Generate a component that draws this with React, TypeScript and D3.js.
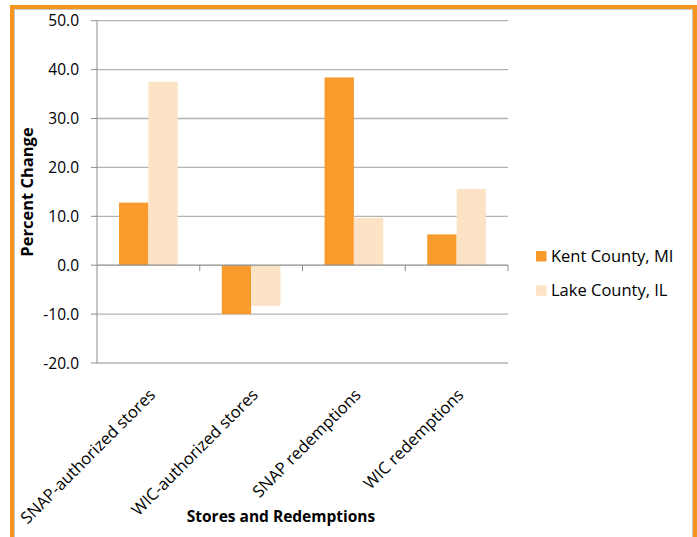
import React from "react";
import * as d3 from "d3";

const categories = ["SNAP-authorized stores", "WIC-authorized stores", "SNAP redemptions", "WIC redemptions"];
const seriesNames = ["Kent County, MI", "Lake County, IL"];
const kentValues = [12.8, -10.0, 38.4, 6.3];
const lakeValues = [37.5, -8.3, 9.7, 15.6];
const yTicks = [-20, -10, 0, 10, 20, 30, 40, 50];
const colors = ["#F89A2C", "#FDE3C6"];

const W = 697;
const H = 537;
const FONT = "'Open Sans', 'Liberation Sans', sans-serif";

export default function App() {
  const left = 97, right = 508, top = 20.7, bottom = 363;
  const x = d3.scaleBand<string>().domain(categories).range([left, right]).paddingInner(0).paddingOuter(0);
  const y = d3.scaleLinear().domain([-20, 50]).range([bottom, top]);
  const band = x.bandwidth();
  const bw = band / 3.5;
  const off = (band - 2 * bw) / 2;
  const series = [kentValues, lakeValues];
  const y0 = y(0);

  return (
    <svg width={W} height={H} style={{ position: "absolute", left: 0, top: 0 }} fontFamily={FONT}>
      <rect x={0} y={0} width={W} height={H} fill="#fff" />
      {/* frame */}
      <path d={`M12,${H + 5} L12,7 L695,7 L695,${H + 5}`} fill="none" stroke="#F7941E" strokeWidth={4} />
      <path d={`M14.5,${H + 5} L14.5,9.5 L692.5,9.5 L692.5,${H + 5}`} fill="none" stroke="#C8C8C8" strokeWidth={1} />

      {/* gridlines */}
      {yTicks.map((t) => (
        <g key={t}>
          {t !== 0 && (
            <line x1={left} x2={right} y1={y(t)} y2={y(t)} stroke="#B3B3B3" strokeWidth={1.3} />
          )}
          <line x1={left - 6} x2={left} y1={y(t)} y2={y(t)} stroke="#8C8C8C" strokeWidth={1} />
          <text x={79} y={y(t)} dy="0.36em" textAnchor="end" fontSize={15.5} fill="#000">
            {t.toFixed(1)}
          </text>
        </g>
      ))}

      {/* bars */}
      {categories.map((c, i) =>
        series.map((vals, s) => {
          const v = vals[i];
          const bx = (x(c) as number) + off + s * bw;
          return (
            <rect
              key={c + s}
              x={bx}
              y={Math.min(y(v), y0)}
              width={bw}
              height={Math.abs(y(v) - y0)}
              fill={colors[s]}
            />
          );
        })
      )}

      {/* y axis line */}
      <line x1={left} x2={left} y1={top} y2={bottom} stroke="#8C8C8C" strokeWidth={1} />
      {/* category axis at zero */}
      <line x1={left} x2={right} y1={y0} y2={y0} stroke="#8C8C8C" strokeWidth={1.2} />
      {categories.map((c, i) => (
        <line key={"t" + i} x1={(x(c) as number) + band} x2={(x(c) as number) + band} y1={y0} y2={y0 + 6} stroke="#8C8C8C" strokeWidth={1} />
      ))}

      {/* category labels */}
      {categories.map((c) => {
        const ax = (x(c) as number) + band / 2 + 8;
        const ay = 396;
        return (
          <text key={"l" + c} x={ax} y={ay} textAnchor="end" fontSize={16.5} fill="#000" transform={`rotate(-45 ${ax} ${ay})`}>
            {c}
          </text>
        );
      })}

      {/* axis titles */}
      <text x={281} y={522} textAnchor="middle" fontSize={15.5} fontWeight="bold" fill="#000">
        Stores and Redemptions
      </text>
      <text x={33} y={192} textAnchor="middle" fontSize={16.5} fontWeight="bold" fill="#000" transform={`rotate(-90 33 192)`}>
        Percent Change
      </text>

      {/* legend */}
      {seriesNames.map((n, i) => (
        <g key={n}>
          <rect x={536} y={251 + i * 34.3} width={10.5} height={10.5} fill={colors[i]} />
          <text x={551} y={262 + i * 34.3} fontSize={16.5} fill="#000">
            {n}
          </text>
        </g>
      ))}
    </svg>
  );
}
